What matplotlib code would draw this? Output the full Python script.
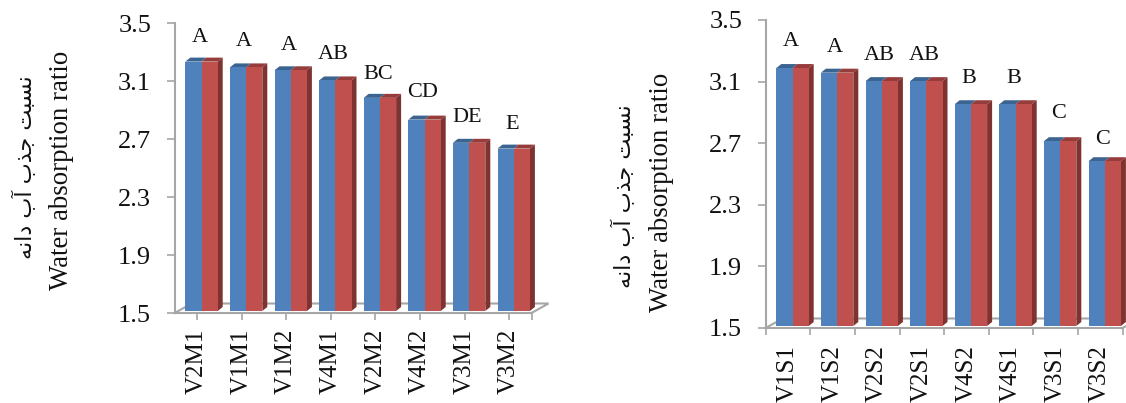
import matplotlib
matplotlib.use("Agg")
import matplotlib.pyplot as plt

plt.rcParams["font.family"] = ["Liberation Serif", "DejaVu Sans"]

# -----------------------------
# DATA
# -----------------------------
left_labels = ["V2M1", "V1M1", "V1M2", "V4M1", "V2M2", "V4M2", "V3M1", "V3M2"]
left_values = [3.22, 3.18, 3.16, 3.09, 2.97, 2.82, 2.66, 2.62]
left_letters = ["A", "A", "A", "AB", "BC", "CD", "DE", "E"]
left_letter_gap = [24.5, 25.5, 24.5, 25.5, 23.5, 27.5, 25.5, 24.5]

right_labels = ["V1S1", "V1S2", "V2S2", "V2S1", "V4S2", "V4S1", "V3S1", "V3S2"]
right_values = [3.175, 3.145, 3.09, 3.09, 2.94, 2.94, 2.70, 2.57]
right_letters = ["A", "A", "AB", "AB", "B", "B", "C", "C"]
right_letter_gap = [26.5, 25.5, 25.5, 25.5, 25.5, 25.5, 27.5, 21.5]

y_ticks = [1.5, 1.9, 2.3, 2.7, 3.1, 3.5]

# presentation forms in visual order, matplotlib does no arabic shaping
persian_title = "\uFEE7\uFEB4\uFE92\uFE96 \uFE9F\uFEAC\uFE8F \uFE81\uFE8F \uFEA9\uFE8D\uFEE7\uFEEA"[::-1]
english_title = "Water absorption ratio"

W, H = 1126, 403
BLUE, BLUE_TOP = "#4F81BD", "#3C6491"
RED, RED_TOP, RED_SIDE = "#C0504D", "#963D3B", "#7F3331"
GRAY = "#A6A6A6"
INK = "#111111"


def draw_chart(box, labels, values, letters, letter_gap, edge_ticks, label_pad):
    left, right, top, bottom = box
    ax = fig.add_axes([left / W, 1 - bottom / H, (right - left) / W, (bottom - top) / H])
    ax.set_xlim(-0.5, 7.5)
    ax.set_ylim(1.5, 3.5)
    px_x = (right - left) / 8
    px_y = (bottom - top) / 2

    # 3d look, sizes in pixels turned to data units
    shift = 4.5 / px_x
    half = 16.2 / px_x
    dx = 5 / px_x
    dy = 4 / px_y
    lift = 2 / px_y
    base = 1.5 + lift

    for i, v in enumerate(values):
        x0 = i + shift - half
        xm = i + shift
        x1 = i + shift + half
        t = v + lift
        ax.bar(xm - half / 2, v - 1.5, half, bottom=base, color=BLUE, zorder=4, clip_on=False)
        ax.bar(xm + half / 2, v - 1.5, half, bottom=base, color=RED, zorder=4, clip_on=False)
        ax.fill([x0, x0 + dx, xm + dx, xm], [t, t + dy, t + dy, t], color=BLUE_TOP, lw=0, zorder=3, clip_on=False)
        ax.fill([xm, xm + dx, x1 + dx, x1], [t, t + dy, t + dy, t], color=RED_TOP, lw=0, zorder=3, clip_on=False)
        ax.fill([x1, x1 + dx, x1 + dx, x1], [base, base + dy, t + dy, t], color=RED_SIDE, lw=0, zorder=3, clip_on=False)
        ax.annotate(letters[i], xy=(i, t), xytext=(2.5 * 0.72, letter_gap[i] * 0.72), textcoords="offset points",
                    ha="center", va="center", fontsize=16, color=INK)

    # floor of the chart
    fx = 17 / (right - left)
    fy = 9.5 / (bottom - top)
    ax.plot([0, fx, 1 + fx, 1], [0, fy, fy, 0], transform=ax.transAxes, color=GRAY, lw=1.5,
            clip_on=False, zorder=2, solid_joinstyle="miter")

    for side in ["top", "right"]:
        ax.spines[side].set_visible(False)
    for side in ["left", "bottom"]:
        ax.spines[side].set_color(GRAY)
        ax.spines[side].set_linewidth(1.5)

    ax.set_yticks(y_ticks)
    ax.set_yticklabels([f"{t:.1f}" for t in y_ticks])
    ax.tick_params(axis="y", length=5.5, width=1.2, color=GRAY, pad=11.5, labelsize=19, labelcolor=INK)

    ax.set_xticks(range(len(labels)))
    ax.set_xticklabels(labels, rotation=90)
    if edge_ticks:
        ax.set_xticks([i - 0.5 for i in range(len(labels) + 1)], minor=True)
        ax.tick_params(axis="x", which="major", length=5, width=0, pad=label_pad, labelsize=18, labelcolor=INK)
    else:
        ax.set_xticks([7.5], minor=True)
        ax.tick_params(axis="x", which="major", length=5, width=1.2, color=GRAY, pad=label_pad, labelsize=18,
                       labelcolor=INK)
    ax.tick_params(axis="x", which="minor", length=5, width=1.2, color=GRAY)
    return ax


fig = plt.figure(figsize=(W / 100, H / 100), dpi=100)

draw_chart((174.7, 531.5, 23, 313), left_labels, left_values, left_letters, left_letter_gap, False, 6.5)
draw_chart((765.7, 1122.5, 20, 328), right_labels, right_values, right_letters, right_letter_gap, True, 7)

fig.text(62 / W, 1 - 170 / H, english_title, rotation=90, ha="center", va="center", fontsize=19.3, color=INK)
fig.text(662 / W, 1 - 192 / H, english_title, rotation=90, ha="center", va="center", fontsize=19.3, color=INK)
fig.text(24 / W, 1 - 167 / H, persian_title, rotation=90, ha="center", va="center", fontsize=16,
         family="DejaVu Sans", color=INK)
fig.text(623 / W, 1 - 196 / H, persian_title, rotation=90, ha="center", va="center", fontsize=16,
         family="DejaVu Sans", color=INK)

fig.savefig("out.png", dpi=100)
